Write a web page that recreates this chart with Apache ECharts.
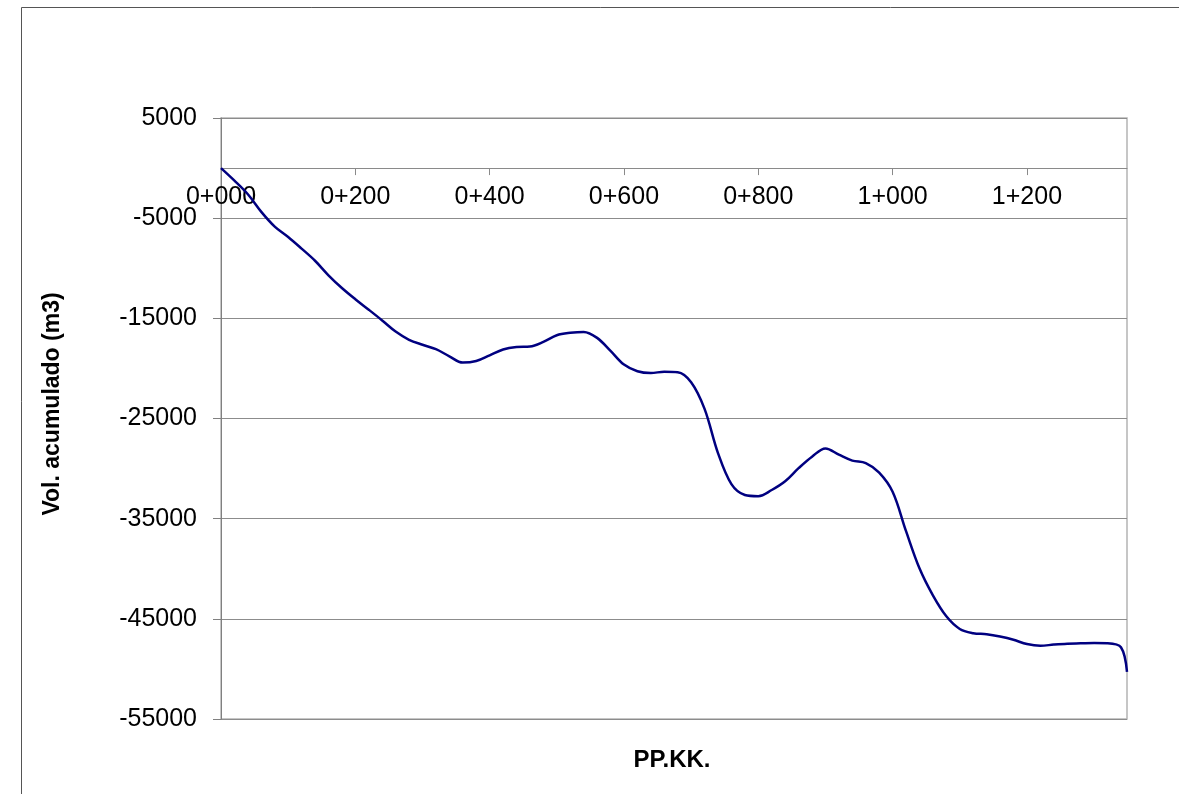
<!DOCTYPE html>
<html>
<head>
<meta charset="utf-8">
<script src="https://cdn.jsdelivr.net/npm/echarts@6/dist/echarts.min.js"></script>
<style>
html,body{margin:0;padding:0;background:#fff;}
#chart{width:1179px;height:794px;}
</style>
</head>
<body>
<div id="chart"></div>
<script>
// Stations (m) and accumulated volume (m3)
const stations = [0,20,40,60,80,100,120,140,160,180,200,220,240,260,280,300,320,340,360,380,400,420,440,460,480,500,520,540,560,580,600,620,640,660,680,700,720,740,760,780,800,820,840,860,880,900,920,940,960,980,1000,1020,1040,1060,1080,1100,1120,1140,1160,1180,1200,1220,1240,1260,1280,1300,1320,1340,1349];
const volumes = [0,-1250,-2610,-4370,-5840,-6880,-8040,-9250,-10700,-11970,-13090,-14140,-15210,-16320,-17140,-17640,-18080,-18790,-19420,-19260,-18690,-18110,-17860,-17810,-17350,-16690,-16450,-16360,-16950,-18250,-19620,-20280,-20460,-20330,-20380,-21380,-24040,-28450,-31550,-32630,-32750,-32140,-31270,-29960,-28810,-27990,-28610,-29200,-29460,-30410,-32320,-36250,-39960,-42660,-44750,-46010,-46430,-46540,-46770,-47090,-47520,-47690,-47570,-47480,-47450,-47420,-47440,-47840,-50300];
const xTicks = [0,200,400,600,800,1000,1200];
const yTicks = [5000,-5000,-15000,-25000,-35000,-45000,-55000];

function pk(v){
  const km = Math.floor(v/1000);
  const m = String(Math.round(v%1000)).padStart(3,'0');
  return km + '+' + m;
}

const chart = echarts.init(document.getElementById('chart'), null, {renderer:'canvas'});
const font = 'Liberation Sans, Arial, sans-serif';
const yMin = -55000, yMax = 5000;
const gridTop = 118, gridBottom = 75, gridH = 794 - gridTop - gridBottom;
// offset of the x axis so it crosses at y = 0
const zeroOffset = -gridH * (0 - yMin) / (yMax - yMin);
chart.setOption({
  animation:false,
  backgroundColor:'#ffffff',
  textStyle:{fontFamily:font},
  grid:{left:221,top:gridTop,right:52,bottom:gridBottom,show:true,borderColor:'#b4b4b4',borderWidth:1.5,backgroundColor:'transparent'},
  graphic:[
    {type:'rect',shape:{x:21.5,y:7.5,width:1300,height:900},style:{fill:'none',stroke:'#555',lineWidth:1},silent:true,z:-1},
    {type:'text',style:{text:'PP.KK.',font:'bold 24px '+font,fill:'#000',textAlign:'center',textVerticalAlign:'middle'},x:672,y:760,silent:true},
    {type:'text',style:{text:'Vol. acumulado (m3)',font:'bold 23px '+font,fill:'#000',textAlign:'center',textVerticalAlign:'middle'},x:53,y:404,rotation:Math.PI/2,silent:true}
  ],
  xAxis:{
    type:'value',min:0,max:1349,position:'bottom',offset:zeroOffset,
    axisLine:{onZero:false,lineStyle:{color:'#8a8a8a',width:1}},
    axisTick:{show:true,length:7,lineStyle:{color:'#8a8a8a'},customValues:xTicks},
    axisLabel:{color:'#000',fontSize:25,fontFamily:font,margin:17,customValues:xTicks,formatter:function(v){return pk(v);}},
    splitLine:{show:false}
  },
  yAxis:{
    type:'value',min:yMin,max:yMax,interval:10000,
    axisLine:{show:true,lineStyle:{color:'#808080',width:1}},
    axisTick:{show:true,length:8,lineStyle:{color:'#808080'}},
    axisLabel:{color:'#000',fontSize:25,fontFamily:font,margin:24,formatter:function(v){return String(v);}},
    splitLine:{show:true,lineStyle:{color:'#8c8c8c',width:1}}
  },
  series:[{
    type:'line',
    data:stations.map((s,i)=>[s,volumes[i]]),
    smooth:0.35,
    showSymbol:false,
    lineStyle:{color:'#000080',width:2.5}
  }]
});
</script>
</body>
</html>
